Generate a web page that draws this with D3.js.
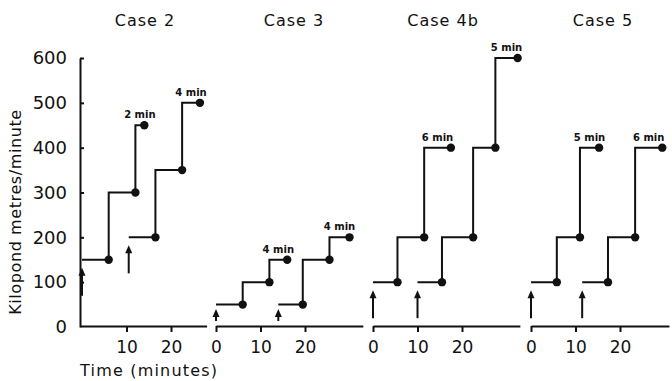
<!DOCTYPE html>
<html>
<head>
<meta charset="utf-8">
<script src="https://cdn.jsdelivr.net/npm/d3@7"></script>
<style>
  body { margin: 0; background: #fff; }
  text { font-family: "DejaVu Sans", sans-serif; fill: #111; }
</style>
</head>
<body>
<svg id="chart" width="672" height="381"></svg>
<script>
// panels, left to right
var panelNames = ["Case 2", "Case 3", "Case 4b", "Case 5"];
var panelXTicks = [[10, 20], [0, 10, 20], [0, 10, 20], [0, 10, 20]];
var yTicks = [0, 100, 200, 300, 400, 500, 600];

// each series: times where a stage starts (last = end), load of each stage
var case2A_t = [0, 6, 12, 14],        case2A_w = [150, 300, 450];
var case2B_t = [10.5, 16.5, 22.5, 26.5], case2B_w = [200, 350, 500];
var case3A_t = [0, 6, 12, 16],        case3A_w = [50, 100, 150];
var case3B_t = [14, 19.5, 25.5, 30],  case3B_w = [50, 150, 200];
var case4bA_t = [0, 5.5, 11.5, 17.5], case4bA_w = [100, 200, 400];
var case4bB_t = [10, 15.5, 22.5, 27.5, 32.5], case4bB_w = [100, 200, 400, 600];
var case5A_t = [0, 5.8, 11, 15.3],    case5A_w = [100, 200, 400];
var case5B_t = [11.5, 17.3, 23.4, 29.5], case5B_w = [100, 200, 400];

// duration of the last stage
var lastLabels = [["2 min", "4 min"], ["4 min", "4 min"], ["6 min", "5 min"], ["5 min", "6 min"]];

var series = [
  [[case2A_t, case2A_w], [case2B_t, case2B_w]],
  [[case3A_t, case3A_w], [case3B_t, case3B_w]],
  [[case4bA_t, case4bA_w], [case4bB_t, case4bB_w]],
  [[case5A_t, case5A_w], [case5B_t, case5B_w]]
];

// layout
var origins = [82, 216, 373, 531];     // x pixel of t = 0 in each panel
var axisSpan = [[-0.45, 28], [0, 33], [0, 33], [0, 31]];
var pxPerMin = 4.45;
var yAxisX = 80;

var svg = d3.select("#chart");

var y = d3.scaleLinear().domain([0, 600]).range([327, 58]);

// y axis
var yAxis = svg.append("g")
  .attr("transform", "translate(" + yAxisX + ",0)")
  .call(d3.axisLeft(y).tickValues(yTicks).tickSizeInner(-4).tickSizeOuter(0).tickPadding(13));
yAxis.select(".domain").attr("stroke", "#111").attr("stroke-width", 2);
yAxis.selectAll(".tick line").attr("stroke", "#111").attr("stroke-width", 2)
  .filter(function(d) { return d == 0; }).remove();
yAxis.selectAll("text").style("font-size", "18px").attr("fill", "#111");

svg.append("text")
  .attr("transform", "translate(21,212) rotate(-90)")
  .attr("text-anchor", "middle")
  .style("font-size", "16px")
  .style("letter-spacing", "0.6px")
  .text("Kilopond metres/minute");

svg.append("text")
  .attr("x", 80).attr("y", 376)
  .style("font-size", "16px")
  .style("letter-spacing", "1.2px")
  .text("Time (minutes)");

var stepLine = d3.line().curve(d3.curveStepAfter);

panelNames.forEach(function(name, i) {
  var x0 = origins[i];
  var x = d3.scaleLinear()
    .domain(axisSpan[i])
    .range(axisSpan[i].map(function(t) { return x0 + t * pxPerMin; }));

  var g = svg.append("g");

  // title
  g.append("text")
    .attr("x", x(0) + [63, 78, 70, 72][i])
    .attr("y", 26)
    .attr("text-anchor", "middle")
    .style("font-size", "16px")
    .style("letter-spacing", "1px")
    .text(name);

  // x axis
  var xAxis = g.append("g")
    .attr("transform", "translate(0," + 326 + ")")
    .call(d3.axisBottom(x).tickValues(panelXTicks[i]).tickSizeInner(6).tickSizeOuter(0).tickPadding(9));
  xAxis.select(".domain").attr("stroke", "#111").attr("stroke-width", 2);
  xAxis.selectAll(".tick line").attr("stroke", "#111").attr("stroke-width", 2);
  xAxis.selectAll("text").style("font-size", "17px").attr("fill", "#111");

  series[i].forEach(function(s, j) {
    var t = s[0], w = s[1];
    var pts = t.map(function(tt, k) {
      var lev = w[Math.min(k, w.length - 1)];
      return [x(tt), y(lev)];
    });

    g.append("path")
      .attr("d", stepLine(pts))
      .attr("fill", "none")
      .attr("stroke", "#111")
      .attr("stroke-width", 2);

    // dots at end of each stage
    g.selectAll(null)
      .data(w)
      .enter().append("circle")
      .attr("cx", function(d, k) { return x(t[k + 1]); })
      .attr("cy", function(d) { return y(d); })
      .attr("r", 4.2)
      .attr("fill", "#111");

    // start arrow
    var ax = x(t[0]);
    var base = Math.min(y(w[0]) + 36, 321);
    var tip = Math.min(y(w[0]) + 8, base - 12);
    g.append("line")
      .attr("x1", ax).attr("x2", ax)
      .attr("y1", base).attr("y2", tip + 5)
      .attr("stroke", "#111").attr("stroke-width", 2);
    g.append("path")
      .attr("d", "M" + ax + "," + tip + " L" + (ax - 3.5) + "," + (tip + 8) + " L" + (ax + 3.5) + "," + (tip + 8) + " Z")
      .attr("fill", "#111");

    // duration of last stage
    var n = t.length;
    g.append("text")
      .attr("x", (x(t[n - 2]) + x(t[n - 1])) / 2)
      .attr("y", y(w[w.length - 1]) - 7)
      .attr("text-anchor", "middle")
      .style("font-size", "10px")
      .style("font-weight", "bold")
      .text(lastLabels[i][j]);
  });
});
</script>
</body>
</html>
